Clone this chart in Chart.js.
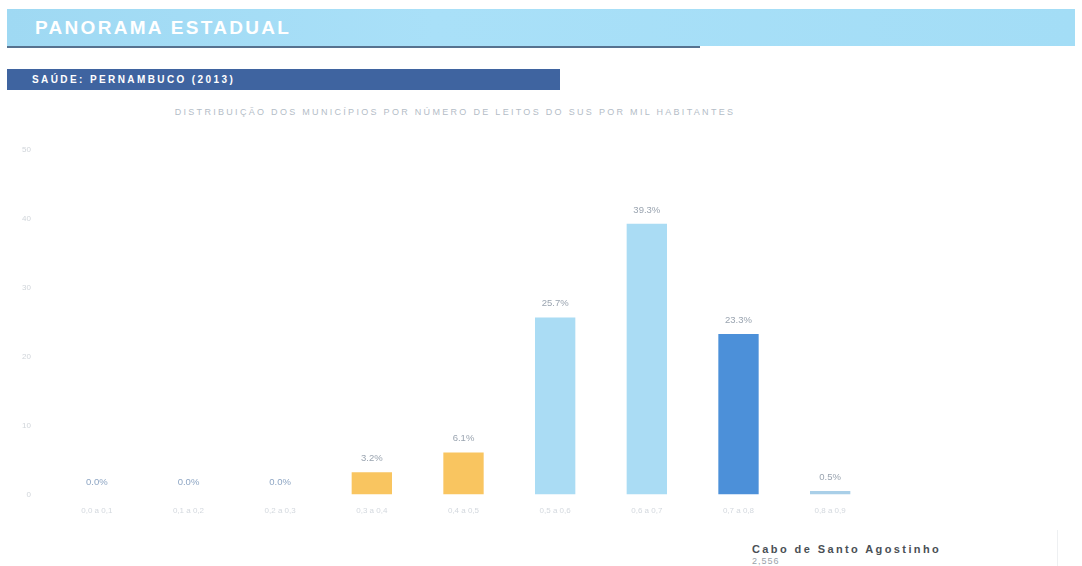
<!DOCTYPE html>
<html><head><meta charset="utf-8">
<script src="https://cdn.jsdelivr.net/npm/chart.js@4.4.0/dist/chart.umd.min.js"></script>
<style>
html,body{margin:0;padding:0;background:#fff;width:1082px;height:566px;overflow:hidden;font-family:"Liberation Sans",Arial,sans-serif;}
#hdr{position:absolute;left:7px;top:9px;width:1068px;height:37px;background:linear-gradient(90deg,#9fd9f3,#a9e0f8 40%,#a3ddf6);}
#hdr span{position:absolute;left:28px;top:8px;color:#fff;font-weight:bold;font-size:19px;letter-spacing:2.3px;}
#hline{position:absolute;left:7px;top:46px;width:693px;height:2px;background:#56728f;}
#sub{position:absolute;left:7px;top:69px;width:553px;height:21px;background:#3f64a0;}
#sub span{position:absolute;left:25px;top:5px;color:#fff;font-weight:bold;font-size:10px;letter-spacing:2.4px;}
#ttl{position:absolute;left:130px;top:107px;width:650px;text-align:center;color:#b4bdc7;font-size:9px;letter-spacing:2.3px;white-space:nowrap;}
#wrap{position:absolute;left:0;top:128px;width:890px;height:396px;}
#muni{position:absolute;left:752px;top:543px;color:#4a4f55;font-weight:bold;font-size:11px;letter-spacing:2.4px;}
#val{position:absolute;left:752px;top:556px;color:#9aa2aa;font-size:9px;letter-spacing:1px;}
#vl{position:absolute;left:1057px;top:530px;width:1px;height:36px;background:#eef0f2;}
</style></head>
<body>
<div id="hdr"><span>PANORAMA ESTADUAL</span></div>
<div id="hline"></div>
<div id="sub"><span>SAÚDE: PERNAMBUCO (2013)</span></div>
<div id="ttl">DISTRIBUIÇÃO DOS MUNICÍPIOS POR NÚMERO DE LEITOS DO SUS POR MIL HABITANTES</div>
<div id="wrap"><canvas id="c" width="890" height="396"></canvas></div>
<div id="muni">Cabo de Santo Agostinho</div>
<div id="val">2,556</div>
<div id="vl"></div>
<script>
const categories = ["0,0 a 0,1","0,1 a 0,2","0,2 a 0,3","0,3 a 0,4","0,4 a 0,5","0,5 a 0,6","0,6 a 0,7","0,7 a 0,8","0,8 a 0,9"];
const percentValues = [0.0, 0.0, 0.0, 3.2, 6.1, 25.7, 39.3, 23.3, 0.5];
const barColors = ["#a9dcf4","#a9dcf4","#a9dcf4","#f9c560","#f9c560","#aadcf4","#aadcf4","#4c90d9","#a9cfe8"];
const yTicks = [0, 10, 20, 30, 40, 50];

const labelPlugin = {
  id: 'barLabels',
  afterDatasetsDraw(chart) {
    const ctx = chart.ctx;
    const meta = chart.getDatasetMeta(0);
    ctx.save();
    ctx.font = '9.5px "Liberation Sans", Arial, sans-serif';
    ctx.textAlign = 'center';
    ctx.textBaseline = 'bottom';
    meta.data.forEach((bar, i) => {
      const v = percentValues[i];
      ctx.fillStyle = v === 0 ? '#8ea6c4' : '#9aa4b0';
      const txt = v.toFixed(1) + '%';
      ctx.fillText(txt, bar.x, bar.y - (v === 0 ? 7 : 9));
    });
    ctx.restore();
  }
};

new Chart(document.getElementById('c'), {
  type: 'bar',
  data: {
    labels: categories,
    datasets: [{
      data: percentValues,
      backgroundColor: barColors,
      barPercentage: 0.44,
      categoryPercentage: 1.0
    }]
  },
  options: {
    responsive: false,
    animation: false,
    layout: { padding: { top: 22, right: 14, left: 0, bottom: 4 } },
    plugins: { legend: { display: false }, tooltip: { enabled: false } },
    scales: {
      x: {
        grid: { display: false },
        border: { display: false },
        ticks: { color: '#d3d8de', font: { size: 8 }, padding: 4, maxRotation: 0 }
      },
      y: {
        min: 0, max: 50,
        afterFit(scale) { scale.width = 51; },
        afterBuildTicks(scale) { scale.ticks = yTicks.map(v => ({ value: v })); },
        grid: { display: false },
        border: { display: false },
        ticks: { color: '#d0d5da', font: { size: 8 }, padding: 12 }
      }
    }
  },
  plugins: [labelPlugin]
});
</script>
</body></html>
